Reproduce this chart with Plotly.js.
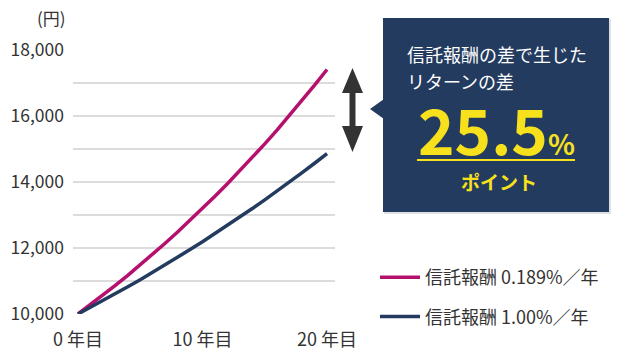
<!DOCTYPE html>
<html><head><meta charset="utf-8">
<script src="https://cdn.plot.ly/plotly-3.0.1.min.js"></script>
<style>html,body{margin:0;padding:0;background:#fff}#chart{width:620px;height:357px}</style>
</head><body><div id="chart"></div>
<script>
const years = [0,1,2,3,4,5,6,7,8,9,10,11,12,13,14,15,16,17,18,19,20];
const lowFee = [10000,10281,10570,10867,11173,11487,11810,12142,12483,12834,13195,13566,13947,14339,14742,15156,15582,16020,16470,16933,17409];
const highFee = [10000,10200,10404,10612,10824,11041,11262,11487,11717,11951,12190,12434,12682,12936,13195,13459,13728,14002,14282,14568,14859];
const seriesNames = ['信託報酬 0.189%／年','信託報酬 1.00%／年'];
const yTickVals = [10000,11000,12000,13000,14000,15000,16000,17000,18000];
const yTickText = ['10,000','','12,000','','14,000','','16,000','','18,000'];
const xTickVals = [0,10,20];
const xTickText = ['0 年目','10 年目','20 年目'];
const unitLabel = '(円)';
const boxLine1 = '信託報酬の差で生じた';
const boxLine2 = 'リターンの差';
const bigValue = '25.5';
const bigUnit = '%';
const subLabel = 'ポイント';

const W=620,H=357,L=73,R=285,T=50,B=43;
const PW=W-L-R, PH=H-T-B;
const px=x=>(x-L)/PW, py=y=>(H-B-y)/PH;
const navy='#243b60', mag='#b5106d', yel='#f7e11c';

const traces=[
 {x:years,y:lowFee,name:seriesNames[0],type:'scatter',mode:'lines',line:{color:mag,width:3.5},cliponaxis:false,legendgroup:'a',hoverinfo:'skip'},
 {x:years,y:highFee,name:seriesNames[1],type:'scatter',mode:'lines',line:{color:navy,width:3.5},cliponaxis:false,legendgroup:'b',hoverinfo:'skip'}
];
function P(pts){return 'M'+pts.map(p=>px(p[0]).toFixed(5)+','+py(p[1]).toFixed(5)).join(' L')+' Z';}
const shapes=[
 {type:'rect',xref:'paper',yref:'paper',x0:px(384),x1:px(611),y0:py(214),y1:py(19),fillcolor:'#dde0e5',line:{width:0},layer:'above'},
 {type:'rect',xref:'paper',yref:'paper',x0:px(383),x1:px(609),y0:py(212),y1:py(18),fillcolor:navy,line:{width:0},layer:'above'},
 {type:'path',xref:'paper',yref:'paper',path:P([[384,99],[370,109],[384,119]]),fillcolor:navy,line:{width:0},layer:'above'},
 {type:'path',xref:'paper',yref:'paper',path:P([[352.5,68],[363,93],[355.5,93],[355.5,126],[363,126],[352.5,152],[342,126],[349.5,126],[349.5,93],[342,93]]),fillcolor:'#333333',line:{width:0},layer:'above'},
 {type:'line',xref:'paper',yref:'paper',x0:px(417),x1:px(575),y0:py(160),y1:py(160),line:{color:yel,width:2},layer:'above'}
];
const ann=[
 {xref:'paper',yref:'paper',x:px(51),y:py(17),text:unitLabel,showarrow:false,xanchor:'center',yanchor:'middle',font:{size:17,color:'#333'}},
 {xref:'paper',yref:'paper',x:px(405),y:py(54),text:boxLine1,showarrow:false,xanchor:'left',yanchor:'middle',font:{size:18,color:'#fff'}},
 {xref:'paper',yref:'paper',x:px(405),y:py(81),text:boxLine2,showarrow:false,xanchor:'left',yanchor:'middle',font:{size:18,color:'#fff'}},
 {xref:'paper',yref:'paper',x:px(496),y:py(128),text:bigValue+'<span style="font-size:28px">'+bigUnit+'</span>',showarrow:false,xanchor:'center',yanchor:'middle',font:{size:62,color:yel,weight:'bold'}},
 {xref:'paper',yref:'paper',x:px(499),y:py(181),text:subLabel,showarrow:false,xanchor:'center',yanchor:'middle',font:{size:19,color:yel,weight:'bold'}}
];
const layout={
 width:W,height:H,margin:{l:L,r:R,t:T,b:B},paper_bgcolor:'#fff',plot_bgcolor:'#fff',
 font:{family:'"Noto Sans CJK JP", "Noto Sans", sans-serif',color:'#333'},
 showlegend:true,
 legend:{x:px(375),y:py(259),xanchor:'left',yanchor:'top',font:{size:18,color:'#333'},itemwidth:40,tracegroupgap:13,bgcolor:'rgba(0,0,0,0)'},
 xaxis:{range:[-0.4,20.64],tickvals:xTickVals,ticktext:xTickText,showgrid:false,zeroline:false,showline:false,ticks:'',tickfont:{size:18,color:'#333'},ticklabelstandoff:13,fixedrange:true},
 yaxis:{range:[10000,18000],tickvals:yTickVals,ticktext:yTickText,showgrid:true,gridcolor:'#dcdcdc',gridwidth:1.5,zeroline:false,showline:false,ticks:'',tickfont:{size:17.5,color:'#333'},ticklabelstandoff:8,fixedrange:true},
 shapes:shapes,annotations:ann
};
Plotly.newPlot('chart',traces,layout,{staticPlot:true,displayModeBar:false});
</script></body></html>
